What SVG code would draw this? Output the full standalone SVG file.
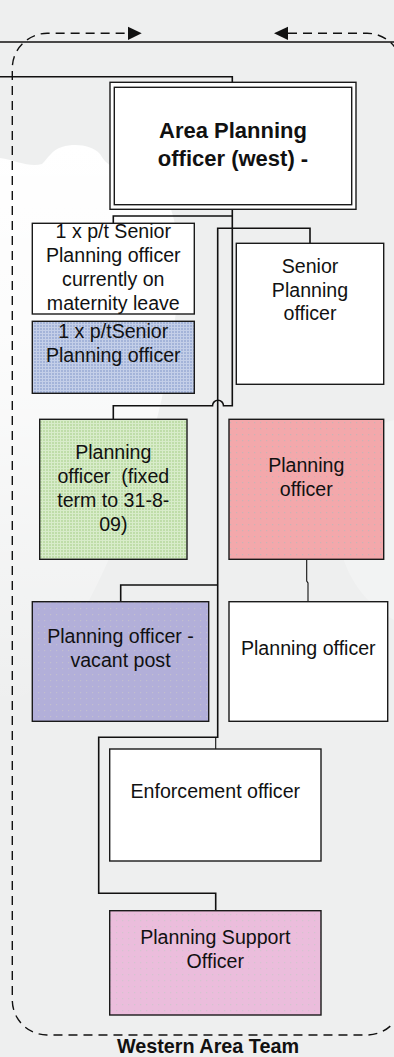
<svg xmlns="http://www.w3.org/2000/svg" width="394" height="1057" viewBox="0 0 394 1057">
<style>
.box{stroke:#1a1a1a;stroke-width:1.4}
.t{font-family:"Liberation Sans",Arial,sans-serif;font-size:19.6px;fill:#111;text-anchor:middle}
.tb{font-family:"Liberation Sans",Arial,sans-serif;font-weight:bold;fill:#111;text-anchor:middle}
.c{fill:none;stroke:#111;stroke-width:1.6}
.cn{fill:none;stroke:#111;stroke-width:1.1}
.dash{fill:none;stroke:#111;stroke-width:1.4;stroke-dasharray:9 6}
</style>
<defs>
<linearGradient id="cloudg" x1="0" y1="0" x2="0" y2="1">
<stop offset="0" stop-color="#ffffff" stop-opacity="1"/>
<stop offset="0.35" stop-color="#ffffff" stop-opacity="0.8"/>
<stop offset="1" stop-color="#ffffff" stop-opacity="0"/>
</linearGradient>
<pattern id="pBlue" width="3" height="3" patternUnits="userSpaceOnUse">
<rect width="3" height="3" fill="#a4b4d9"/>
<rect width="1" height="3" fill="#c4cfe8"/>
<rect width="3" height="1" fill="#c4cfe8"/>
</pattern>
<pattern id="pGreen" width="3" height="3" patternUnits="userSpaceOnUse">
<rect width="3" height="3" fill="#bfdda9"/>
<rect width="1" height="3" fill="#d8ecca"/>
<rect width="3" height="1" fill="#d8ecca"/>
</pattern>
<pattern id="pPink" width="6" height="6" patternUnits="userSpaceOnUse">
<rect width="6" height="6" fill="#f3a8ab"/>
<rect x="2" y="2" width="1.2" height="1.2" fill="#c9b4b4"/>
</pattern>
<pattern id="pPurple" width="6" height="6" patternUnits="userSpaceOnUse">
<rect width="6" height="6" fill="#b2afd9"/>
<rect x="2" y="2" width="1.2" height="1.2" fill="#c2bfcf"/>
</pattern>
<pattern id="pSupport" width="6" height="6" patternUnits="userSpaceOnUse">
<rect width="6" height="6" fill="#ebbddc"/>
<rect x="2" y="2" width="1.2" height="1.2" fill="#d4c4cf"/>
</pattern>
</defs>

<g id="background">
<rect width="394" height="1057" fill="#eeefef"/>
<path d="M0,158 C15,160 30,168 42,164 C48,158 52,150 62,147 C75,143 92,145 100,154 C104,160 106,168 140,175 C175,185 185,240 175,320 C165,420 120,560 60,650 C40,690 20,700 0,710 Z" fill="url(#cloudg)"/>
<path d="M394,420 C350,430 330,470 335,520 C340,570 360,600 394,620 Z" fill="#ffffff" fill-opacity="0.25"/>
</g>

<g id="frame">
<path class="dash" d="M288,33.3 L367,33.3 A35,35 0 0 1 402,68.3 L402,1000 A35,35 0 0 1 367,1035 L47,1035 A35,35 0 0 1 12.3,1000 L12.3,68.3 A35,35 0 0 1 47.3,33.3 L129,33.3"/>
<polygon points="141.7,33.3 128,26.7 128,40" fill="#111"/>
<polygon points="274,33.3 288,26.7 288,40" fill="#111"/>
<text class="tb" x="208" y="1053" font-size="19.8">Western Area Team</text>
</g>

<g id="connectors">
<line x1="0" y1="42" x2="394" y2="42" stroke="#111" stroke-width="1.3"/>
<path class="c" d="M0,76.7 H232.3 V82.3"/>
<path class="c" d="M232.3,209.3 V405.8 H223.5 A5.5,5.5 0 0 0 212.5,405.8 H113.3 V419.3"/>
<path class="c" d="M232.3,216 H113.3 V223.3"/>
<path class="c" d="M310,243.3 V228.3 H217.7 V737.3 H98.7 V893.3 H215.7 V910.7"/>
<path class="c" d="M217.7,585 H120.7 V601.7"/>
<path class="cn" d="M215.7,737.3 V749"/>
<path class="cn" d="M306.7,559.3 V581 L308,583 V601.7"/>
</g>

<g id="area-planning">
<rect class="box" x="110" y="82.3" width="246" height="127" fill="#ffffff" stroke-width="1.5"/>
<rect class="box" x="114.3" y="87.3" width="237.4" height="117.4" fill="none" stroke-width="1.5"/>
<text class="tb" x="233" y="138" font-size="22">Area Planning</text>
<text class="tb" x="233" y="165.7" font-size="22">officer (west) -</text>
</g>

<g id="senior-maternity">
<rect class="box" x="32.3" y="223.3" width="162" height="90.7" fill="#ffffff"/>
<text class="t" x="113.3" y="238.3">1 x p/t Senior</text>
<text class="t" x="113.3" y="262.3">Planning officer</text>
<text class="t" x="113.3" y="286">currently on</text>
<text class="t" x="113.3" y="309.7">maternity leave</text>
</g>

<g id="senior-pt">
<rect class="box" x="32.3" y="321.3" width="162" height="72" fill="url(#pBlue)"/>
<text class="t" x="113.3" y="338.3">1 x p/tSenior</text>
<text class="t" x="113.3" y="362.3">Planning officer</text>
</g>

<g id="senior-planning">
<rect class="box" x="236.3" y="243.3" width="147.4" height="141" fill="#ffffff"/>
<text class="t" x="310" y="272.7">Senior</text>
<text class="t" x="310" y="296.5">Planning</text>
<text class="t" x="310" y="320">officer</text>
</g>

<g id="po-fixed-term">
<rect class="box" x="39.7" y="419.3" width="147.3" height="140" fill="url(#pGreen)"/>
<text class="t" x="113.3" y="459.3">Planning</text>
<text class="t" x="113.3" y="483.3" xml:space="preserve">officer  (fixed</text>
<text class="t" x="113.3" y="507.3">term to 31-8-</text>
<text class="t" x="113.3" y="531">09)</text>
</g>

<g id="po-pink">
<rect class="box" x="229" y="419.3" width="154.7" height="140" fill="url(#pPink)"/>
<text class="t" x="306.3" y="472.3">Planning</text>
<text class="t" x="306.3" y="495.5">officer</text>
</g>

<g id="po-vacant">
<rect class="box" x="32.3" y="601.7" width="176.4" height="119.6" fill="url(#pPurple)"/>
<text class="t" x="120.5" y="642.7">Planning officer -</text>
<text class="t" x="120.5" y="666.5">vacant post</text>
</g>

<g id="po-white">
<rect class="box" x="229" y="601.7" width="158.7" height="119.6" fill="#ffffff"/>
<text class="t" x="308.3" y="655">Planning officer</text>
</g>

<g id="enforcement">
<rect class="box" x="109.7" y="749" width="211.3" height="112" fill="#ffffff"/>
<text class="t" x="215.3" y="798.3">Enforcement officer</text>
</g>

<g id="support">
<rect class="box" x="109.7" y="910.7" width="211.3" height="104.3" fill="url(#pSupport)"/>
<text class="t" x="215.3" y="944.3">Planning Support</text>
<text class="t" x="215.3" y="968.3">Officer</text>
</g>
</svg>
